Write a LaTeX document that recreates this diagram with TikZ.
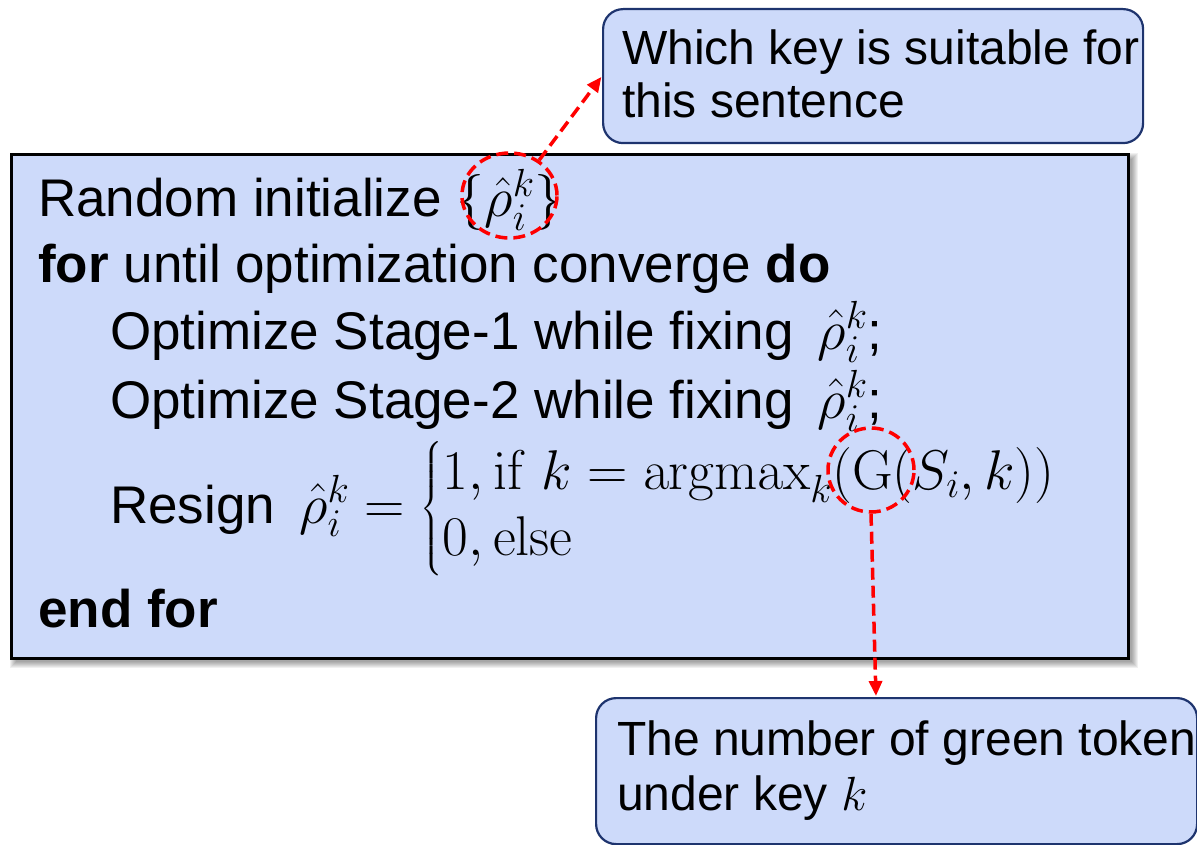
\RequirePackage{fix-cm}
\documentclass[tikz,border=0pt]{standalone}
\usepackage{amsmath}
\usepackage[no-math]{fontspec}
\setmainfont{Liberation Sans}
\usetikzlibrary{arrows.meta,shapes.geometric}

\definecolor{panelblue}{RGB}{205,218,250}
\definecolor{notenavy}{RGB}{30,52,110}
\definecolor{markred}{RGB}{255,0,0}

% formulas are set a little larger than the running text
\newcommand{\formula}[1]{{\fontsize{56}{55}\selectfont$#1$}}

\tikzset{
  algoline/.style={anchor=base west, inner sep=0pt, font=\fontsize{53}{55}\selectfont},
  noteline/.style={anchor=base west, inner sep=0pt, font=\fontsize{48}{56}\selectfont},
  notebox/.style={draw=notenavy, line width=2.2pt, fill=panelblue, rounded corners=20pt,
    anchor=north west, inner sep=0pt},
  redmark/.style={draw=markred, line width=3.5pt, dash pattern=on 12pt off 6pt},
  redarrow/.style={redmark, -{Triangle[length=15pt,width=13pt]}, shorten >=1pt},
}

\begin{document}
\begin{tikzpicture}[x=1pt,y=-1pt]
\useasboundingbox (0,0) rectangle (1197,845);

% soft shadow under the algorithm panel
\foreach \s in {0,1,...,6}
  \fill[black, opacity=0.06] (16-\s,159-\s) rectangle (1132+\s,662+\s);

% algorithm panel
\node (algo) [draw=black, line width=2.8pt, fill=panelblue, anchor=north west, inner sep=0pt,
  minimum width=1117pt, minimum height=504pt] at (10,153) {};

\node (l1) [algoline] at (38,217) {Random initialize \formula{\{\hat{\rho}_i^k\}}};
\node (l2) [algoline] at (38,282) {\textbf{for} until optimization converge \textbf{do}};
\node (l3) [algoline] at (110,349) {Optimize Stage-1 while fixing \formula{\,\hat{\rho}_i^k};};
\node (l4) [algoline] at (110,418) {Optimize Stage-2 while fixing \formula{\,\hat{\rho}_i^k};};
\node (l5) [algoline] at (110,523) {Resign \formula{\,\hat{\rho}_i^k =
  \begin{cases} 1, \mathrm{if}\ k = \operatorname{argmax}_k(\mathrm{G}(S_i, k)) \\
  0, \mathrm{else} \end{cases}}};
\node (l6) [algoline] at (38,627) {\textbf{end for}};

% explanatory notes
\node (q1) [notebox, minimum width=540pt, minimum height=134pt] at (602,8) {};
\node (q1a) [noteline] at (622,65) {Which key is suitable for};
\node (q1b) [noteline] at (622,118) {this sentence};

\node (q2) [notebox, minimum width=601pt, minimum height=146pt] at (595,697) {};
\node (q2a) [noteline] at (617,755) {The number of green token};
\node (q2b) [noteline] at (617,810) {under key $k$};

% dashed highlights and pointers
\node (e1) [ellipse, redmark, minimum width=95pt, minimum height=85pt] at (509.5,195.5) {};
\node (e2) [ellipse, redmark, minimum width=86pt, minimum height=84pt] at (871,470) {};

\draw[redarrow] (e1.50) -- (q1.west);
\draw[redarrow] (e2.south) -- ([xshift=5pt]e2.south |- q2.north);
\end{tikzpicture}
\end{document}
